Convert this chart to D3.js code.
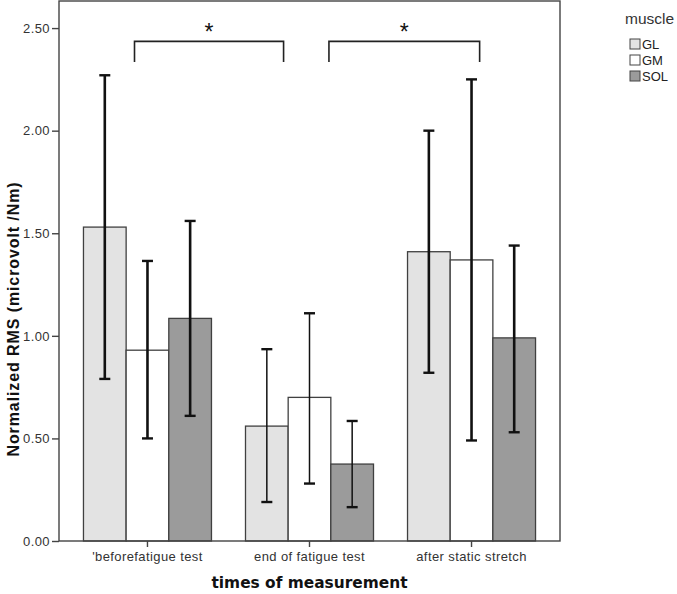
<!DOCTYPE html>
<html>
<head>
<meta charset="utf-8">
<script src="https://cdn.jsdelivr.net/npm/d3@7"></script>
<style>
  body { margin: 0; background: #fff; }
  svg { display: block; }
</style>
</head>
<body>
<svg id="chart" width="677" height="594"></svg>
<script>
// data
const times = ["'beforefatigue test", 'end of fatigue test', 'after static stretch'];
const muscles = ['GL', 'GM', 'SOL'];
const meanGL = [1.53, 0.56, 1.41];
const meanGM = [0.93, 0.70, 1.37];
const meanSOL = [1.085, 0.375, 0.99];
const lowGL = [0.79, 0.19, 0.82];
const highGL = [2.27, 0.935, 2.0];
const lowGM = [0.50, 0.28, 0.49];
const highGM = [1.365, 1.11, 2.25];
const lowSOL = [0.61, 0.165, 0.53];
const highSOL = [1.56, 0.585, 1.44];
const yTicks = [0, 0.5, 1, 1.5, 2, 2.5];
// significance brackets: from / to in group units, level in y units
const brackets = [
  { from: -0.08, to: 0.84, top: 2.435, foot: 2.335 },
  { from: 1.12, to: 2.05, top: 2.435, foot: 2.335 }
];

const colors = { GL: '#e3e3e3', GM: '#ffffff', SOL: '#9b9b9b' };
const means = { GL: meanGL, GM: meanGM, SOL: meanSOL };
const lows = { GL: lowGL, GM: lowGM, SOL: lowSOL };
const highs = { GL: highGL, GM: highGM, SOL: highSOL };

const margin = { top: 1, right: 117, bottom: 53, left: 59 };
const width = 677 - margin.left - margin.right;
const height = 594 - margin.top - margin.bottom;

const svg = d3.select('#chart');
const g = svg.append('g').attr('transform', `translate(${margin.left},${margin.top})`);

const x = d3.scaleBand().domain(times).range([0, width]).paddingInner(0.21).paddingOuter(0.151);
const xm = d3.scaleBand().domain(muscles).range([0, x.bandwidth()]);
const xi = d3.scaleLinear().domain([0, 1]).range([x(times[0]) + x.bandwidth() / 2, x(times[1]) + x.bandwidth() / 2]);
const y = d3.scaleLinear().domain([0, 2.632]).range([height, 0]);

const rows = [];
times.forEach((t, i) => {
  muscles.forEach((m) => {
    rows.push({ t, i, m, v: means[m][i], lo: lows[m][i], hi: highs[m][i] });
  });
});

// bars
g.selectAll('rect.bar')
  .data(rows)
  .join('rect')
  .attr('class', 'bar')
  .attr('x', (d) => x(d.t) + xm(d.m))
  .attr('y', (d) => y(d.v))
  .attr('width', xm.bandwidth())
  .attr('height', (d) => height - y(d.v))
  .attr('fill', (d) => colors[d.m])
  .attr('stroke', '#404040')
  .attr('stroke-width', 1.3);

// error bars
const eb = g.append('g').attr('stroke', '#111');
rows.forEach((d) => {
  const cx = x(d.t) + xm(d.m) + xm.bandwidth() / 2;
  const sw = d.i === 1 ? 1.5 : 2.6;
  eb.append('line').attr('x1', cx).attr('x2', cx).attr('y1', y(d.lo)).attr('y2', y(d.hi)).attr('stroke-width', sw);
  [d.lo, d.hi].forEach((v) => {
    eb.append('line').attr('x1', cx - 5.5).attr('x2', cx + 5.5).attr('y1', y(v)).attr('y2', y(v)).attr('stroke-width', 2.4);
  });
});

// brackets
brackets.forEach((b) => {
  const x0 = xi(b.from), x1 = xi(b.to);
  g.append('path')
    .attr('d', `M${x0},${y(b.foot)}V${y(b.top)}H${x1}V${y(b.foot)}`)
    .attr('fill', 'none')
    .attr('stroke', '#222')
    .attr('stroke-width', 1.6);
  g.append('text')
    .attr('x', (x0 + x1) / 2)
    .attr('y', y(b.top) - 1)
    .attr('text-anchor', 'middle')
    .attr('font-family', 'Liberation Sans, Arial, sans-serif')
    .attr('font-size', 23)
    .attr('fill', '#111')
    .text('*');
});

// frame
g.append('rect')
  .attr('width', width)
  .attr('height', height)
  .attr('fill', 'none')
  .attr('stroke', '#444')
  .attr('stroke-width', 1.4);

// axes
const yAxis = g.append('g')
  .call(d3.axisLeft(y).tickValues(yTicks).tickFormat(d3.format('.2f')).tickSize(7).tickSizeOuter(0).tickPadding(2));
const xAxis = g.append('g')
  .attr('transform', `translate(0,${height})`)
  .call(d3.axisBottom(x).tickSize(6).tickSizeOuter(0).tickPadding(5));
[yAxis, xAxis].forEach((a) => {
  a.select('.domain').remove();
  a.selectAll('line').attr('stroke', '#444').attr('stroke-width', 1.4);
  a.selectAll('text')
    .attr('font-family', 'Liberation Sans, Arial, sans-serif')
    .attr('font-size', 13)
    .attr('letter-spacing', 0.4)
    .attr('fill', '#333');
});

// axis titles
svg.append('text')
  .attr('transform', `translate(19,${margin.top + height / 2 + 48}) rotate(-90)`)
  .attr('text-anchor', 'middle')
  .attr('font-family', 'Liberation Sans, Arial, sans-serif')
  .attr('font-weight', 'bold')
  .attr('font-size', 16)
  .attr('letter-spacing', 0.9)
  .attr('fill', '#111')
  .text('Normalized RMS (microvolt /Nm)');

svg.append('text')
  .attr('x', margin.left + x(times[1]) + x.bandwidth() / 2)
  .attr('y', 588)
  .attr('text-anchor', 'middle')
  .attr('font-family', 'DejaVu Sans, Verdana, sans-serif')
  .attr('font-weight', 'bold')
  .attr('font-size', 15.4)
  .attr('fill', '#111')
  .text('times of measurement');

// legend
const lg = svg.append('g').attr('transform', 'translate(625,0)');
lg.append('text')
  .attr('x', 0).attr('y', 24)
  .attr('font-family', 'Liberation Sans, Arial, sans-serif')
  .attr('font-size', 15.5)
  .attr('fill', '#333')
  .text('muscle');
const items = lg.selectAll('g.item')
  .data(muscles)
  .join('g')
  .attr('class', 'item')
  .attr('transform', (d, i) => `translate(5,${39 + i * 16})`);
items.append('rect')
  .attr('width', 10).attr('height', 10)
  .attr('fill', (d) => colors[d])
  .attr('stroke', '#444')
  .attr('stroke-width', 1);
items.append('text')
  .attr('x', 12).attr('y', 10)
  .attr('font-family', 'Liberation Sans, Arial, sans-serif')
  .attr('font-size', 13)
  .attr('fill', '#222')
  .text((d) => d);
</script>
</body>
</html>
